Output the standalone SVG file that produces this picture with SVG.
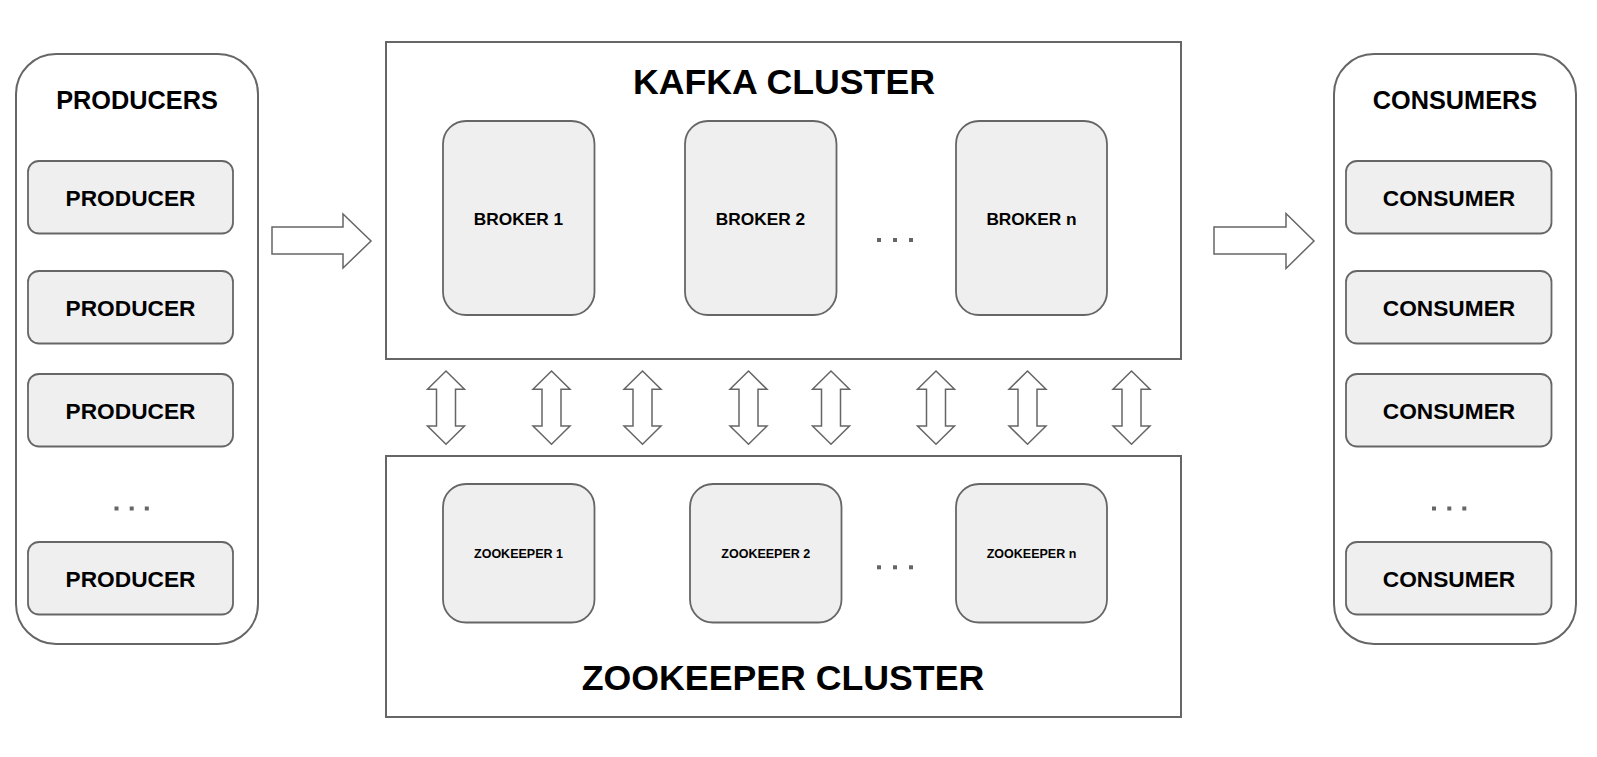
<svg xmlns="http://www.w3.org/2000/svg" width="1597" height="757" viewBox="0 0 1597 757">
<style>
.cont{fill:#ffffff;stroke:#666666;stroke-width:2}
.box{fill:#efefef;stroke:#666666;stroke-width:1.8}
.arr{fill:#ffffff;stroke:#666666;stroke-width:1.5;stroke-linejoin:miter}
.dot{fill:#666666}
text{font-family:"Liberation Sans",Arial,sans-serif;font-weight:bold;fill:#000000;text-anchor:middle}
.hdr{font-size:25.3px}
.item{font-size:22.7px}
.title{font-size:35.7px}
.brk{font-size:17.3px}
.zk{font-size:12.5px}
</style>
<defs>
<path id="varrow" d="M0,371 L18.5,389.3 L9.5,389.3 L9.5,426 L18.5,426 L0,444.3 L-18.5,426 L-9.5,426 L-9.5,389.3 L-18.5,389.3 Z"/>
</defs>
<rect width="1597" height="757" fill="#ffffff"/>

<g id="producers">
<rect class="cont" x="16" y="54" width="242" height="590" rx="40"/>
<text class="hdr" x="137" y="109">PRODUCERS</text>
<g id="producer1"><rect class="box" x="28" y="161" width="205" height="72.5" rx="11"/><text class="item" x="130.5" y="206">PRODUCER</text></g>
<g id="producer2"><rect class="box" x="28" y="271" width="205" height="72.5" rx="11"/><text class="item" x="130.5" y="316">PRODUCER</text></g>
<g id="producer3"><rect class="box" x="28" y="374" width="205" height="72.5" rx="11"/><text class="item" x="130.5" y="419">PRODUCER</text></g>
<g id="producer-dots"><rect class="dot" x="114.5" y="506.5" width="4" height="4"/><rect class="dot" x="129.7" y="506.5" width="4" height="4"/><rect class="dot" x="144.8" y="506.5" width="4" height="4"/></g>
<g id="producer4"><rect class="box" x="28" y="542" width="205" height="72.5" rx="11"/><text class="item" x="130.5" y="587">PRODUCER</text></g>
</g>

<g id="kafka-cluster">
<rect class="cont" x="386" y="42" width="795" height="317"/>
<text class="title" x="784" y="94">KAFKA CLUSTER</text>
<g id="broker1"><rect class="box" x="443" y="121" width="151.5" height="194" rx="23"/><text class="brk" x="518.5" y="225">BROKER 1</text></g>
<g id="broker2"><rect class="box" x="685" y="121" width="151.5" height="194" rx="23"/><text class="brk" x="760.5" y="225">BROKER 2</text></g>
<g id="broker-dots"><rect class="dot" x="877" y="238" width="4" height="4"/><rect class="dot" x="893" y="238" width="4" height="4"/><rect class="dot" x="909" y="238" width="4" height="4"/></g>
<g id="brokern"><rect class="box" x="956" y="121" width="151" height="194" rx="23"/><text class="brk" x="1031.5" y="225">BROKER n</text></g>
</g>

<g id="zookeeper-cluster">
<rect class="cont" x="386" y="456" width="795" height="261"/>
<text class="title" x="783" y="690">ZOOKEEPER CLUSTER</text>
<g id="zk1"><rect class="box" x="443" y="484" width="151.5" height="138.5" rx="23"/><text class="zk" x="518.5" y="558.3">ZOOKEEPER 1</text></g>
<g id="zk2"><rect class="box" x="690" y="484" width="151.5" height="138.5" rx="23"/><text class="zk" x="765.8" y="558.3">ZOOKEEPER 2</text></g>
<g id="zk-dots"><rect class="dot" x="877" y="565.3" width="4" height="4"/><rect class="dot" x="893" y="565.3" width="4" height="4"/><rect class="dot" x="909" y="565.3" width="4" height="4"/></g>
<g id="zkn"><rect class="box" x="956" y="484" width="151" height="138.5" rx="23"/><text class="zk" x="1031.5" y="558.3">ZOOKEEPER n</text></g>
</g>

<g id="consumers">
<rect class="cont" x="1334" y="54" width="242" height="590" rx="40"/>
<text class="hdr" x="1455" y="109">CONSUMERS</text>
<g id="consumer1"><rect class="box" x="1346" y="161" width="205.5" height="72.5" rx="11"/><text class="item" x="1449" y="206">CONSUMER</text></g>
<g id="consumer2"><rect class="box" x="1346" y="271" width="205.5" height="72.5" rx="11"/><text class="item" x="1449" y="316">CONSUMER</text></g>
<g id="consumer3"><rect class="box" x="1346" y="374" width="205.5" height="72.5" rx="11"/><text class="item" x="1449" y="419">CONSUMER</text></g>
<g id="consumer-dots"><rect class="dot" x="1432" y="506.5" width="4" height="4"/><rect class="dot" x="1447.3" y="506.5" width="4" height="4"/><rect class="dot" x="1462.3" y="506.5" width="4" height="4"/></g>
<g id="consumer4"><rect class="box" x="1346" y="542" width="205.5" height="72.5" rx="11"/><text class="item" x="1449" y="587">CONSUMER</text></g>
</g>

<g id="connectors">
<path class="arr" d="M272,227 L343,227 L343,214 L371,241 L343,268 L343,254 L272,254 Z"/>
<path class="arr" d="M1214,227 L1286,227 L1286,213.5 L1314,241 L1286,268.5 L1286,254 L1214,254 Z"/>
<use class="arr" href="#varrow" x="446"/>
<use class="arr" href="#varrow" x="551.5"/>
<use class="arr" href="#varrow" x="642.5"/>
<use class="arr" href="#varrow" x="748.5"/>
<use class="arr" href="#varrow" x="831"/>
<use class="arr" href="#varrow" x="936"/>
<use class="arr" href="#varrow" x="1027.5"/>
<use class="arr" href="#varrow" x="1131.5"/>
</g>
</svg>
